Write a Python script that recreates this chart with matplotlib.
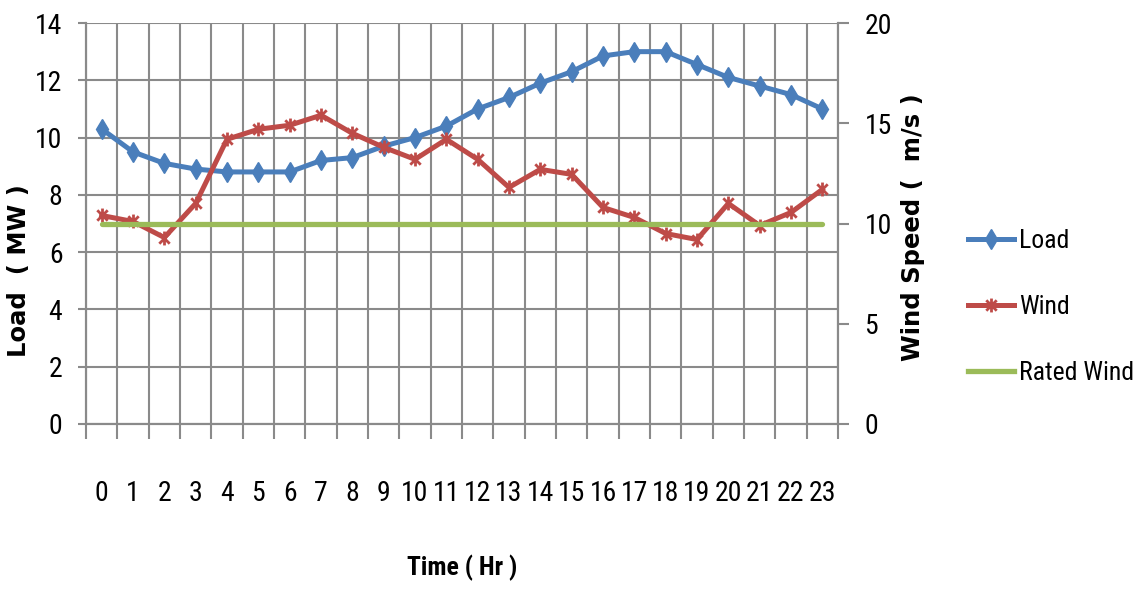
import matplotlib
matplotlib.use("Agg")
import matplotlib.pyplot as plt
from matplotlib import font_manager as fm
from matplotlib.path import Path
from matplotlib.lines import Line2D

# Hourly data
hours = list(range(24))
load_mw = [10.3, 9.5, 9.1, 8.9, 8.8, 8.8, 8.8, 9.2, 9.3, 9.7, 10.0, 10.4,
           11.0, 11.4, 11.9, 12.3, 12.85, 13.0, 13.0, 12.55, 12.1, 11.8, 11.5, 11.0]
wind_speed = [10.4, 10.1, 9.3, 11.0, 14.2, 14.7, 14.9, 15.4, 14.5, 13.8, 13.2, 14.2,
              13.2, 11.8, 12.7, 12.45, 10.8, 10.3, 9.5, 9.2, 11.0, 9.9, 10.55, 11.7]
rated_wind = 10.0

load_ticks = [0, 2, 4, 6, 8, 10, 12, 14]
wind_ticks = [0, 5, 10, 15, 20]

# Pick a narrow face for numbers and legend text
installed = {f.name for f in fm.fontManager.ttflist}
narrow = None
for cand in ["Liberation Sans Narrow", "Roboto Condensed", "Open Sans Condensed",
             "Noto Sans Condensed", "DejaVu Sans Condensed"]:
    if cand in installed:
        narrow = cand
        break
if narrow is None:
    narrow = "Liberation Sans"
plt.rcParams["font.family"] = [narrow, "DejaVu Sans"]

BLUE = "#4a7ebb"
RED = "#be4b48"
GREEN = "#9bbb59"
GRID = "#8a8a8a"

# Asterisk-style marker: vertical bar plus an X
star_marker = Path(
    [(0, -1), (0, 1), (-0.75, -0.75), (0.75, 0.75), (-0.75, 0.75), (0.75, -0.75)],
    [Path.MOVETO, Path.LINETO, Path.MOVETO, Path.LINETO, Path.MOVETO, Path.LINETO],
)

W, H = 1144, 592
L, R, T, B = 86, 838, 23, 424

fig = plt.figure(figsize=(W / 100, H / 100), dpi=100)
ax = fig.add_axes([L / W, 1 - B / H, (R - L) / W, (B - T) / H])
ax2 = ax.twinx()

# Load on the primary axis
ax.plot(hours, load_mw, color=BLUE, lw=3.6, marker="d", ms=10.5,
        mec=BLUE, mfc=BLUE, zorder=3, solid_joinstyle="round")

# Wind and rated wind on the secondary axis
ax2.plot(hours, wind_speed, color=RED, lw=3.6, marker=star_marker, ms=10,
         mew=2.0, mec=RED, zorder=3, solid_joinstyle="round")
ax2.plot([hours[0], hours[-1]], [rated_wind, rated_wind], color=GREEN, lw=3.8,
         zorder=4, solid_capstyle="round")

ax.set_xlim(-0.5, 23.5)
ax.set_ylim(0, 14)
ax2.set_ylim(0, 20)

# Category boundaries as major ticks, hour labels as minor ticks
ax.set_xticks([h - 0.5 for h in hours] + [hours[-1] + 0.5])
ax.set_xticklabels([])
ax.set_xticks(hours, minor=True)
ax.set_xticklabels([str(h) for h in hours], minor=True)
ax.tick_params(axis="x", which="major", direction="out", length=11, width=1.5, color=GRID)
ax.tick_params(axis="x", which="minor", length=0, pad=40, labelsize=20)

ax.set_yticks(load_ticks)
ax.tick_params(axis="y", direction="out", length=6, width=1.5, color=GRID,
               labelsize=20, pad=11)
ax2.set_yticks(wind_ticks)
ax2.tick_params(axis="y", direction="out", length=8, width=1.5, color=GRID,
                labelsize=20, pad=11)

ax.grid(True, which="major", color=GRID, lw=1.5)
ax.set_axisbelow(True)
ax.spines["top"].set_visible(False)
ax2.spines["top"].set_visible(False)
for a in (ax, ax2):
    for sp in ["left", "right", "bottom"]:
        a.spines[sp].set_color(GRID)
        a.spines[sp].set_linewidth(1.5)

label_font = dict(family="DejaVu Sans", weight="bold", size=17.5)
ax.set_ylabel("Load  ( MW )", **label_font)
ax.yaxis.set_label_coords((31 - L) / (R - L), 1 - (271 - T) / (B - T))
ax2.set_ylabel("Wind Speed (  m/s )", rotation=90, **label_font)
ax2.yaxis.set_label_coords((901 - L) / (R - L), 1 - (227 - T) / (B - T))

fig.text(462 / W, 1 - 568 / H, "Time ( Hr )", ha="center", va="center",
         fontsize=18.5, fontweight="bold")

handles = [
    Line2D([], [], color=BLUE, lw=3.6, marker="d", ms=10.5),
    Line2D([], [], color=RED, lw=3.6, marker=star_marker, ms=10, mew=2.0),
    Line2D([], [], color=GREEN, lw=3.8),
]
fig.legend(handles, ["Load", "Wind", "Rated Wind"], loc="center left",
           bbox_to_anchor=(968 / W, 1 - 307 / H), frameon=False,
           fontsize=18.5, handlelength=1.8, handletextpad=0.2, labelspacing=1.65,
           borderpad=0, borderaxespad=0)

fig.savefig("out.png", dpi=100)
